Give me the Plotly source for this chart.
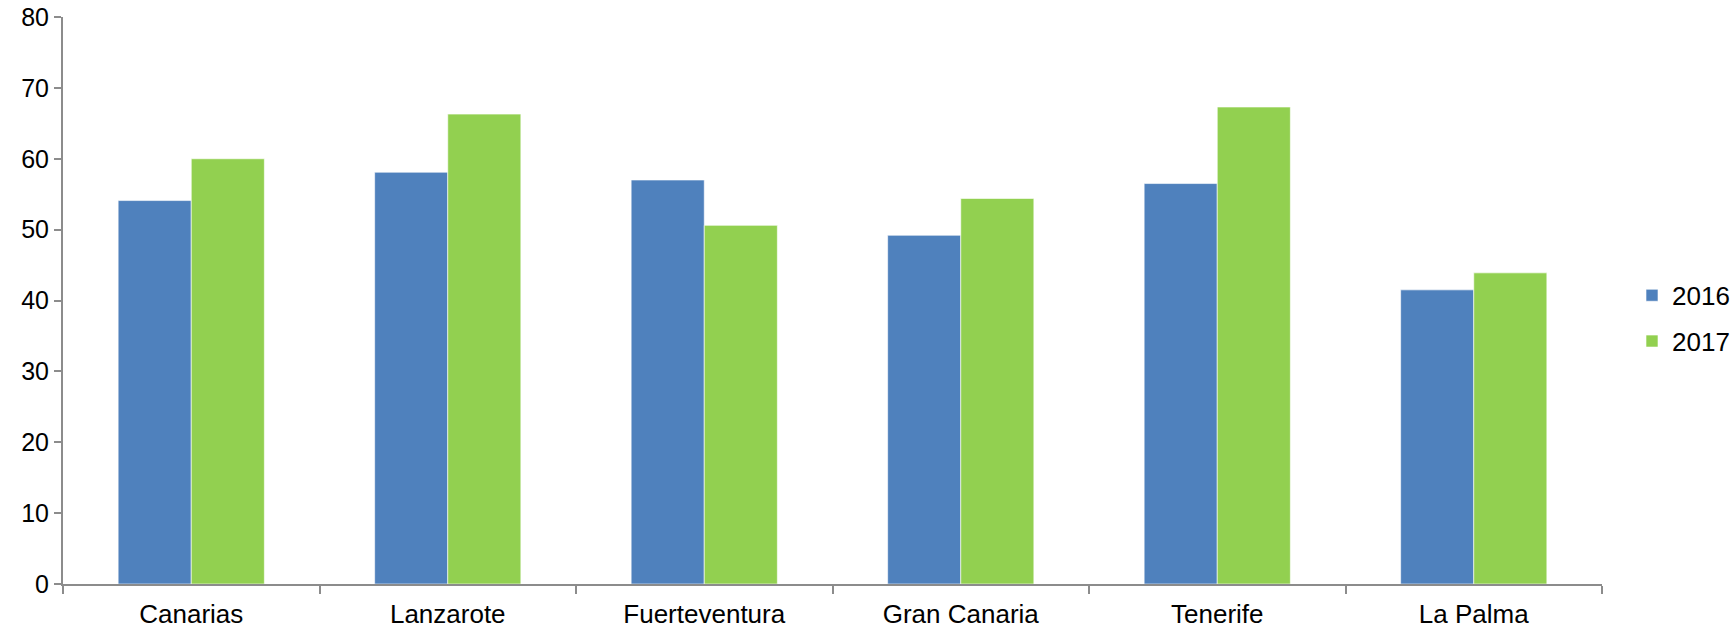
import plotly.graph_objects as go

categories = ["Canarias", "Lanzarote", "Fuerteventura", "Gran Canaria", "Tenerife", "La Palma"]
values_2016 = [54.1, 58.1, 57.0, 49.2, 56.5, 41.5]
values_2017 = [60.0, 66.3, 50.6, 54.4, 67.3, 43.9]
series_names = ["2016", "2017"]
y_ticks = [0, 10, 20, 30, 40, 50, 60, 70, 80]

W, H = 1736, 630
L, R, T, B = 63, 134, 17, 46
FONT = "Arial, Liberation Sans, sans-serif"
AXIS = "#8C8C8C"

fig = go.Figure()
fig.add_trace(go.Bar(x=categories, y=values_2016, name=series_names[0], legendgroup="a",
                     marker=dict(color="#4F81BD", line=dict(color="rgba(255,255,255,0.6)", width=1))))
fig.add_trace(go.Bar(x=categories, y=values_2017, name=series_names[1], legendgroup="b",
                     marker=dict(color="#92D050", line=dict(color="rgba(255,255,255,0.6)", width=1))))

plot_w = W - L - R
fig.update_layout(
    width=W, height=H,
    margin=dict(l=L, r=R, t=T, b=B, pad=0, autoexpand=False),
    paper_bgcolor="white", plot_bgcolor="white",
    barmode="group", bargap=0.43, bargroupgap=0,
    font=dict(family=FONT, size=25, color="black"),
    showlegend=True,
    legend=dict(x=(1632 - L) / plot_w, xanchor="left", y=0.4685, yanchor="middle",
                font=dict(size=26, family=FONT, color="black"),
                bgcolor="rgba(0,0,0,0)", itemwidth=30,
                traceorder="grouped", tracegroupgap=9),
    xaxis=dict(type="category", range=[-0.5, 5.5], showline=True, linecolor=AXIS, linewidth=2,
               ticks="outside", tickson="boundaries", ticklen=8, tickwidth=2, tickcolor=AXIS,
               showgrid=False, zeroline=False, automargin=False, ticklabelstandoff=6,
               tickfont=dict(size=26, family=FONT, color="black")),
    yaxis=dict(range=[0, 80], tickvals=y_ticks, showline=True, linecolor=AXIS, linewidth=2,
               ticks="outside", ticklen=7, tickwidth=2, tickcolor=AXIS,
               showgrid=False, zeroline=False, automargin=False,
               tickfont=dict(size=25, family=FONT, color="black")),
)

fig.write_html("out.html", config={"displayModeBar": False},
               post_script="document.body.style.margin='0';document.body.style.overflow='hidden';")
